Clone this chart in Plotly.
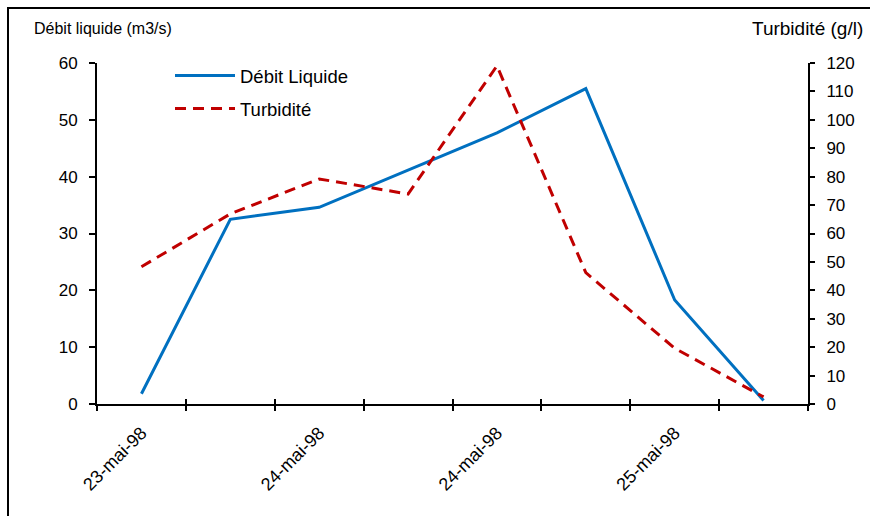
import plotly.graph_objects as go

# ---- data ----
x_index = [0, 1, 2, 3, 4, 5, 6, 7]
tick_labels = ["23-mai-98", "", "24-mai-98", "", "24-mai-98", "", "25-mai-98", ""]
debit = [1.8, 32.5, 34.6, 41.2, 47.7, 55.5, 18.3, 0.6]
turbidite = [48.3, 66.9, 79.2, 73.9, 119.0, 46.2, 19.6, 2.5]
boundaries = [i - 0.5 for i in range(9)]
left_ticks = list(range(0, 61, 10))
right_ticks = list(range(0, 121, 10))

FONT = "Liberation Sans, Arial, sans-serif"
W, H = 870, 516
L, R, T, B = 97, 62, 63, 112
PW, PH = W - L - R, H - T - B

def px_x(p):
    return (p - L) / PW

def px_y(p):
    return (H - B - p) / PH

fig = go.Figure()
# Débit on the main x axis (boundary ticks, outside)
fig.add_trace(go.Scatter(
    x=x_index, y=debit, name="Débit Liquide", mode="lines",
    line=dict(color="#0070C0", width=3), legendgroup="a",
))
# Turbidité on x2 (category labels) and y2
fig.add_trace(go.Scatter(
    x=x_index, y=turbidite, name="Turbidité", mode="lines", xaxis="x2",
    line=dict(color="#C00000", width=3, dash="11px,7px"), yaxis="y2", legendgroup="b",
))
# empty helper trace so the inside-tick axis is drawn
fig.add_trace(go.Scatter(
    x=[], y=[], xaxis="x3", showlegend=False, hoverinfo="skip", mode="lines",
))

xr = [-0.5, 7.5]
fig.update_layout(
    width=W, height=H,
    margin=dict(l=L, r=R, t=T, b=B, autoexpand=False),
    paper_bgcolor="white", plot_bgcolor="white",
    font=dict(family=FONT, size=16, color="black"),
    showlegend=True,
    legend=dict(
        x=px_x(170), y=px_y(57), xanchor="left", yanchor="top",
        bgcolor="rgba(0,0,0,0)", font=dict(size=18.5, family=FONT),
        traceorder="grouped", tracegroupgap=6, itemwidth=60,
    ),
    xaxis=dict(
        range=xr, tickmode="array", tickvals=boundaries, ticktext=[""] * len(boundaries),
        ticks="outside", ticklen=5, tickwidth=2, tickcolor="black",
        showline=True, linecolor="black", linewidth=2, showgrid=False, zeroline=False,
        automargin=False,
    ),
    xaxis2=dict(
        range=xr, overlaying="x", anchor="y", side="bottom",
        tickmode="array", tickvals=x_index, ticktext=tick_labels,
        tickangle=-45, ticks="", showline=False, showgrid=False, zeroline=False,
        tickfont=dict(size=18, family=FONT), automargin=False, ticklabelstandoff=14,
    ),
    xaxis3=dict(
        range=xr, overlaying="x", anchor="y", side="bottom",
        tickmode="array", tickvals=boundaries, ticktext=[""] * len(boundaries),
        ticks="inside", ticklen=5, tickwidth=2, tickcolor="black",
        showline=False, showgrid=False, zeroline=False, automargin=False,
    ),
    yaxis=dict(
        range=[0, 60], tickmode="array", tickvals=left_ticks,
        ticks="outside", ticklen=6, tickwidth=2, tickcolor="black",
        showline=True, linecolor="black", linewidth=2, showgrid=False, zeroline=False,
        tickfont=dict(size=17, family=FONT), ticklabelstandoff=8, automargin=False,
    ),
    yaxis2=dict(
        range=[0, 120], overlaying="y", side="right", anchor="x",
        tickmode="array", tickvals=right_ticks,
        ticks="outside", ticklen=5, tickwidth=2, tickcolor="black",
        showline=True, linecolor="black", linewidth=2, showgrid=False, zeroline=False,
        tickfont=dict(size=17, family=FONT), ticklabelstandoff=8, automargin=False,
    ),
    annotations=[
        dict(text="Débit liquide (m3/s)", xref="paper", yref="paper",
             x=px_x(32), y=px_y(28), xanchor="left", yanchor="middle",
             showarrow=False, font=dict(size=16, family=FONT)),
        dict(text="Turbidité (g/l)", xref="paper", yref="paper",
             x=px_x(865), y=px_y(28), xanchor="right", yanchor="middle",
             showarrow=False, font=dict(size=19, family=FONT)),
    ],
    shapes=[
        dict(type="rect", xref="paper", yref="paper",
             x0=px_x(8), y0=px_y(8), x1=px_x(W + 20), y1=px_y(H + 20),
             line=dict(color="black", width=2), fillcolor="rgba(0,0,0,0)", layer="above"),
    ],
)

fig.write_html("out.html")
